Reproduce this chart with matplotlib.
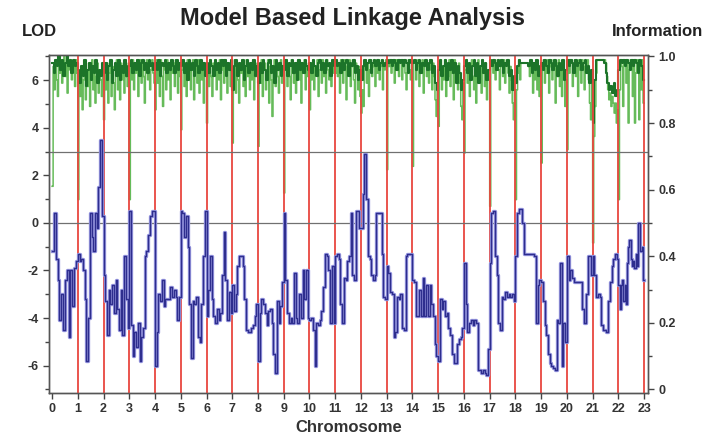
import matplotlib.pyplot as plt
from matplotlib.ticker import MultipleLocator

plt.rcParams['font.family'] = ['Liberation Sans', 'DejaVu Sans']

# LOD score steps per chromosome (0..22)
lod = [
    [-1.2, 0.4, -1.5, -2.4, -4.1, -3.0, -4.5, -2.4, -2.0, -4.8, -2.0, -3.5, -1.9, -1.6],
    [-1.3, -1.6, -1.5, -2.0, -3.2, -5.8, -4.0, 0.4, -0.6, -1.2, 0.4, -0.2, 1.5, 3.5, 0.3],
    [-2.2, -3.3, -4.7, -2.8, -3.4, -2.6, -3.8, -2.4, -3.6, -4.5, -2.8, -4.7, -1.4, -3.2, -4.4],
    [0.5, -4.3, -5.6, -4.6, -5.2, -4.2, -5.8, -4.8, -4.4, -1.4, -1.2, -0.5, 0.3, 0.5, 0.5],
    [-6.0, -4.6, -3.0, -3.3, -2.4, -3.5, -3.2, -3.2, -3.2, -2.7, -3.1, -2.8, -3.1, -4.1, -3.1],
    [0.5, 0.4, -0.6, 0.3, -1.0, -3.4, -5.7, -3.3, -3.4, -3.1, -4.8, -5.0, -3.4, -1.4, 0.5],
    [-3.9, -2.8, -1.4, -3.2, -3.9, -4.2, -3.6, -4.1, -3.8, -2.2, -0.4, -2.4, -4.1, -2.9, -3.8],
    [-2.6, -3.7, -3.0, -1.8, -1.4, -1.4, -1.8, -3.2, -4.5, -4.6, -4.6, -4.4, -4.3, -3.9, -3.4],
    [-5.8, -3.8, -3.2, -3.4, -3.8, -4.3, -3.7, -3.6, -4.2, -5.5, -6.3, -3.3, -4.2, -3.5, -2.5],
    [0.4, -2.4, -3.8, -4.2, -4.0, -4.2, -2.1, -4.0, -4.2, -3.0, -4.0, -2.0, -3.2, -2.0, -4.0],
    [-4.1, -4.0, -4.5, -6.0, -4.2, -4.3, -4.1, -3.7, -2.7, -1.3, -1.4, -2.0, -4.2, -1.8, -4.2],
    [-1.4, -1.3, -1.5, -3.4, -4.2, -2.3, -2.4, -1.6, -1.4, 0.4, -2.2, -2.4, 0.5, 0.5, -0.2],
    [-0.2, 1.2, 2.9, 1.0, -1.4, -1.5, -2.2, -2.4, -2.2, 0.4, 0.4, 0.4, -1.3, -3.1, -3.2],
    [-1.8, -2.1, -2.9, -3.0, -4.8, -4.6, -3.1, -3.2, -3.0, -4.4, -4.5, -1.4, -1.3, -1.3, -1.3],
    [-2.4, -2.5, -3.9, -3.9, -2.8, -3.9, -2.3, -3.9, -2.6, -3.9, -2.6, -3.4, -3.9, -5.1, -5.6],
    [-5.8, -3.2, -3.6, -3.3, -3.9, -3.8, -4.4, -4.7, -5.5, -5.9, -5.9, -5.1, -4.9, -4.8, -4.4],
    [-1.7, -3.4, -4.6, -4.2, -4.1, -4.3, -4.1, -4.2, -6.2, -6.2, -6.3, -6.2, -6.3, -6.4, -5.3],
    [-1.7, 0.4, 0.5, -1.4, -2.2, -4.2, -4.5, -3.1, -3.2, -2.9, -3.1, -3.0, -3.1, -3.0, -3.3],
    [-1.4, 0.4, 0.6, 0.6, 0.0, -1.3, -1.3, -1.3, -1.3, -1.3, -1.3, -1.4, -4.2, -2.6, -2.4],
    [-2.5, -3.3, -4.3, -4.7, -5.5, -5.9, -6.0, -6.1, -6.2, -4.1, -4.2, -1.7, -6.0, -4.2, -5.0],
    [-1.4, -2.4, -2.0, -2.3, -2.5, -2.5, -2.5, -2.5, -2.5, -3.6, -4.2, -3.0, -1.4, -1.4, -2.2],
    [-1.4, -2.2, -3.1, -3.0, -3.1, -4.3, -4.5, -4.5, -4.6, -3.3, -2.5, -1.8, -1.5, -1.3, -1.5],
    [-2.6, -3.6, -2.6, -2.4, -3.3, -2.6, -3.4, -1.7, -1.0, -0.7, -1.5, -1.8, -1.6, -1.9,
     -1.3, -1.8, 0.0, 0.0, -1.2, -1.0, -2.4],
]

# information content (light green trace), first value is the dip at the chromosome start
info_light = [
    [0.61, 0.97, 0.90, 0.99, 0.93, 0.88, 0.98, 0.95, 0.99, 0.92, 0.97, 1.0, 0.94, 0.98, 0.89, 0.99, 0.96, 0.99, 0.93, 0.98, 0.97, 0.91, 0.99, 0.95],
    [0.57, 0.95, 0.88, 0.97, 0.84, 0.93, 0.99, 0.87, 0.96, 0.91, 0.98, 0.85, 0.95, 0.99, 0.90, 0.97, 0.86, 0.94, 0.98, 0.89, 0.96, 0.93, 0.88, 0.97],
    [0.81, 0.96, 0.90, 0.98, 0.86, 0.95, 0.99, 0.88, 0.97, 0.92, 0.84, 0.96, 0.99, 0.90, 0.95, 0.87, 0.98, 0.93, 0.97, 0.89, 0.99, 0.94, 0.91, 0.98],
    [0.57, 0.98, 0.93, 0.99, 0.90, 0.97, 0.95, 0.99, 0.88, 0.96, 0.99, 0.92, 0.98, 0.94, 0.86, 0.97, 0.99, 0.93, 0.98, 0.90, 0.96, 0.99, 0.95, 0.92],
    [0.84, 0.99, 0.92, 0.97, 0.88, 0.99, 0.94, 0.85, 0.98, 0.96, 0.90, 0.99, 0.93, 0.97, 0.87, 0.99, 0.95, 0.98, 0.91, 0.99, 0.96, 0.89, 0.98, 0.94],
    [0.78, 0.96, 0.99, 0.91, 0.97, 0.88, 0.99, 0.94, 0.98, 0.90, 0.96, 0.99, 0.87, 0.95, 0.98, 0.92, 0.99, 0.89, 0.96, 0.93, 0.98, 0.86, 0.95, 0.97],
    [0.80, 0.97, 0.91, 0.99, 0.94, 0.88, 0.98, 0.95, 0.99, 0.90, 0.97, 0.93, 0.99, 0.87, 0.96, 0.98, 0.92, 0.99, 0.95, 0.89, 0.98, 0.96, 0.91, 0.99],
    [0.74, 0.95, 0.99, 0.89, 0.97, 0.93, 0.86, 0.98, 0.95, 0.99, 0.91, 0.97, 0.88, 0.99, 0.94, 0.96, 0.90, 0.98, 0.93, 0.99, 0.87, 0.96, 0.94, 0.98],
    [0.73, 0.97, 0.92, 0.99, 0.88, 0.96, 0.98, 0.90, 0.95, 0.99, 0.86, 0.97, 0.93, 0.82, 0.96, 0.99, 0.91, 0.98, 0.94, 0.89, 0.97, 0.99, 0.92, 0.96],
    [0.59, 0.96, 0.99, 0.91, 0.98, 0.94, 0.87, 0.99, 0.95, 0.92, 0.98, 0.89, 0.97, 0.99, 0.93, 0.96, 0.86, 0.98, 0.95, 0.99, 0.90, 0.97, 0.94, 0.98],
    [0.84, 0.98, 0.93, 0.99, 0.90, 0.97, 0.95, 0.99, 0.88, 0.96, 0.98, 0.92, 0.99, 0.94, 0.97, 0.89, 0.99, 0.96, 0.93, 0.98, 0.91, 0.99, 0.95, 0.97],
    [0.95, 0.99, 0.94, 0.98, 0.89, 0.99, 0.96, 0.92, 0.99, 0.97, 0.87, 0.98, 0.95, 0.99, 0.91, 0.97, 0.99, 0.93, 0.86, 0.98, 0.96, 0.90, 0.97, 0.88],
    [0.83, 0.90, 0.85, 0.97, 0.99, 0.92, 0.98, 0.88, 0.96, 0.99, 0.94, 0.97, 0.99, 0.91, 0.98, 0.95, 0.99, 0.93, 0.97, 0.99, 0.90, 0.98, 0.96, 0.99],
    [0.66, 0.99, 0.97, 0.99, 0.95, 0.99, 0.98, 0.92, 0.99, 0.96, 0.99, 0.94, 0.98, 0.99, 0.93, 0.97, 0.99, 0.95, 0.90, 0.98, 0.99, 0.96, 0.93, 0.99],
    [0.67, 0.98, 0.99, 0.93, 0.97, 0.99, 0.91, 0.98, 0.95, 0.99, 0.89, 0.97, 0.99, 0.94, 0.98, 0.92, 0.99, 0.96, 0.90, 0.98, 0.94, 0.87, 0.82, 0.90],
    [0.79, 0.97, 0.99, 0.90, 0.96, 0.93, 0.99, 0.88, 0.97, 0.94, 0.99, 0.91, 0.98, 0.95, 0.87, 0.99, 0.93, 0.97, 0.90, 0.98, 0.92, 0.85, 0.81, 0.92],
    [0.71, 0.96, 0.99, 0.92, 0.98, 0.88, 0.97, 0.99, 0.94, 0.90, 0.98, 0.86, 0.96, 0.99, 0.93, 0.97, 0.89, 0.99, 0.95, 0.91, 0.98, 0.87, 0.96, 0.93],
    [0.55, 0.98, 0.99, 0.95, 0.99, 0.93, 0.98, 0.99, 0.96, 0.90, 0.99, 0.97, 0.94, 0.99, 0.92, 0.98, 0.99, 0.95, 0.89, 0.97, 0.93, 0.86, 0.81, 0.90],
    [0.57, 0.90, 0.95, 0.99, 0.93, 0.98, 0.98, 0.98, 0.98, 0.98, 0.98, 0.98, 0.97, 0.94, 0.99, 0.96, 0.89, 0.98, 0.93, 0.99, 0.90, 0.97, 0.88, 0.95],
    [0.68, 0.97, 0.99, 0.92, 0.98, 0.95, 0.99, 0.89, 0.97, 0.99, 0.93, 0.96, 0.99, 0.86, 0.98, 0.94, 0.99, 0.91, 0.97, 0.88, 0.99, 0.95, 0.85, 0.93],
    [0.72, 0.99, 0.95, 0.98, 0.99, 0.91, 0.97, 0.99, 0.94, 0.98, 0.88, 0.99, 0.96, 0.92, 0.99, 0.97, 0.90, 0.98, 0.95, 0.99, 0.93, 0.86, 0.81, 0.94],
    [0.44, 0.76, 0.85, 0.95, 0.99, 0.99, 0.99, 0.99, 0.99, 0.99, 0.99, 0.99, 0.98, 0.94, 0.90, 0.87, 0.89, 0.85, 0.88, 0.86, 0.83, 0.86, 0.80, 0.84],
    [0.57, 0.90, 0.99, 0.97, 0.85, 0.99, 0.98, 0.92, 0.99, 0.80, 0.96, 0.99, 0.97, 0.88, 0.99, 0.80, 0.95, 0.99, 0.98, 0.81, 0.97, 0.90, 0.99, 0.86],
]

# dark green trace, stays close to the top
info_dark = [
    [0.98, 0.95, 0.99, 0.97, 1.0, 0.96, 0.99, 0.94, 0.98, 1.0, 0.97, 0.99, 0.95, 0.99, 0.97, 0.98],
    [0.96, 0.92, 0.97, 0.94, 0.99, 0.91, 0.96, 0.98, 0.93, 0.97, 0.95, 0.99, 0.92, 0.96, 0.94, 0.98],
    [0.95, 0.98, 0.93, 0.97, 0.99, 0.92, 0.96, 0.98, 0.94, 0.99, 0.93, 0.97, 0.95, 0.99, 0.94, 0.97],
    [0.97, 0.99, 0.95, 0.98, 0.96, 0.99, 0.94, 0.98, 0.99, 0.96, 0.98, 0.95, 0.99, 0.97, 0.98, 0.96],
    [0.98, 0.96, 0.99, 0.94, 0.98, 0.97, 0.99, 0.95, 0.98, 0.96, 0.99, 0.97, 0.95, 0.99, 0.96, 0.98],
    [0.97, 0.99, 0.95, 0.98, 0.93, 0.99, 0.96, 0.98, 0.94, 0.99, 0.97, 0.95, 0.99, 0.96, 0.98, 0.94],
    [0.98, 0.95, 0.99, 0.97, 0.94, 0.99, 0.96, 0.98, 0.95, 0.99, 0.97, 0.99, 0.94, 0.98, 0.96, 0.99],
    [0.90, 0.97, 0.99, 0.94, 0.98, 0.96, 0.99, 0.93, 0.97, 0.99, 0.95, 0.98, 0.96, 0.99, 0.94, 0.97],
    [0.92, 0.98, 0.95, 0.99, 0.96, 0.93, 0.98, 0.99, 0.95, 0.97, 0.92, 0.99, 0.96, 0.98, 0.94, 0.97],
    [0.96, 0.99, 0.94, 0.98, 0.97, 0.99, 0.95, 0.98, 0.93, 0.99, 0.96, 0.98, 0.95, 0.99, 0.97, 0.96],
    [0.98, 0.95, 0.99, 0.97, 0.94, 0.98, 0.99, 0.96, 0.98, 0.95, 0.99, 0.97, 0.98, 0.94, 0.99, 0.97],
    [0.99, 0.97, 0.98, 0.95, 0.99, 0.96, 0.98, 0.99, 0.94, 0.98, 0.97, 0.99, 0.95, 0.97, 0.93, 0.96],
    [0.93, 0.97, 0.99, 0.96, 0.98, 0.99, 0.95, 0.98, 0.99, 0.97, 0.99, 0.96, 0.98, 0.99, 0.97, 0.98],
    [0.99, 0.98, 0.99, 0.97, 0.99, 0.98, 0.96, 0.99, 0.98, 0.99, 0.97, 0.99, 0.98, 0.95, 0.99, 0.98],
    [0.98, 0.99, 0.96, 0.98, 0.99, 0.95, 0.98, 0.97, 0.99, 0.96, 0.98, 0.99, 0.95, 0.97, 0.92, 0.90],
    [0.96, 0.99, 0.94, 0.97, 0.99, 0.93, 0.98, 0.96, 0.99, 0.95, 0.98, 0.92, 0.97, 0.95, 0.90, 0.93],
    [0.97, 0.99, 0.95, 0.98, 0.93, 0.97, 0.99, 0.94, 0.98, 0.92, 0.97, 0.99, 0.95, 0.98, 0.93, 0.96],
    [0.99, 0.97, 0.99, 0.98, 0.96, 0.99, 0.97, 0.99, 0.95, 0.98, 0.97, 0.99, 0.94, 0.96, 0.90, 0.94],
    [0.92, 0.97, 0.99, 0.98, 0.98, 0.98, 0.98, 0.98, 0.97, 0.99, 0.95, 0.98, 0.96, 0.99, 0.94, 0.97],
    [0.98, 0.96, 0.99, 0.97, 0.95, 0.99, 0.98, 0.96, 0.99, 0.97, 0.94, 0.98, 0.96, 0.99, 0.93, 0.96],
    [0.99, 0.97, 0.99, 0.98, 0.95, 0.99, 0.97, 0.98, 0.99, 0.96, 0.98, 0.99, 0.95, 0.97, 0.92, 0.96],
    [0.80, 0.93, 0.99, 0.99, 0.99, 0.99, 0.99, 0.98, 0.95, 0.92, 0.90, 0.91, 0.89, 0.92, 0.88, 0.90],
    [0.96, 0.99, 0.98, 0.99, 0.97, 0.99, 0.98, 0.96, 0.99, 0.97, 0.99, 0.98, 0.95, 0.99, 0.97, 0.93],
]
info_end = 0.86
chromosomes = list(range(24))


def flatten(per_chrom, end_value):
    xs, ys = [], []
    for c, vals in enumerate(per_chrom):
        n = len(vals)
        for i, v in enumerate(vals):
            xs.append(c + i / n)
            ys.append(v)
    xs.append(len(per_chrom))
    ys.append(end_value)
    return xs, ys


lod_x, lod_y = flatten(lod, lod[-1][-1])
il_x, il_y = flatten(info_light, info_end)
id_x, id_y = flatten(info_dark, info_dark[-1][-1])

fig = plt.figure(figsize=(7.2, 4.44), dpi=100)
ax = fig.add_axes([0.068, 0.115, 0.832, 0.761])
ax2 = ax.twinx()

lod_lim = (-7.15, 7.06)
ax.set_xlim(-0.12, 23.15)
ax.set_ylim(*lod_lim)
ax2.set_ylim((lod_lim[0] + 7) / 14, (lod_lim[1] + 7) / 14)

for c in chromosomes[1:]:
    ax.axvline(c, color='#e8473f', lw=1.3, zorder=1)
ax.axhline(3, color='#707070', lw=0.9, zorder=1)
ax.axhline(0, color='#707070', lw=0.9, zorder=1)

ax2.step(il_x, il_y, where='post', color='#66bb5a', lw=1.1, zorder=2)
ax2.step(id_x, id_y, where='post', color='#1c7429', lw=1.5, zorder=3)

ax.step(lod_x, lod_y, where='post', color='#9898e0', lw=2.4, zorder=4)
ax.step(lod_x, lod_y, where='post', color='#2e2e8e', lw=1.0, zorder=5)

ax.set_zorder(ax2.get_zorder() + 1)
ax.patch.set_visible(False)

tick_font = dict(fontsize=9, fontweight='bold')
ax.set_xticks(chromosomes)
ax.set_xticklabels([str(c) for c in chromosomes], **tick_font)
ax.set_yticks([-6, -4, -2, 0, 2, 4, 6])
ax.set_yticklabels(['-6', '-4', '-2', '0', '2', '4', '6'], **tick_font)
ax.yaxis.set_minor_locator(MultipleLocator(1))
ax2.set_yticks([0, 0.2, 0.4, 0.6, 0.8, 1.0])
ax2.set_yticklabels(['0', '0.2', '0.4', '0.6', '0.8', '1.0'], **tick_font)
ax2.yaxis.set_minor_locator(MultipleLocator(0.1))

for a in (ax, ax2):
    a.tick_params(which='both', direction='out', color='#444444', width=1, labelcolor='#333333')
    a.tick_params(which='major', length=4)
    a.tick_params(which='minor', length=3)
    for s in a.spines.values():
        s.set_color('#555555')
        s.set_linewidth(1)

ax.set_xlabel('Chromosome', fontsize=12, fontweight='bold', color='#333333', labelpad=3)
fig.text(0.49, 0.958, 'Model Based Linkage Analysis', ha='center', va='center',
         fontsize=17, fontweight='bold', color='#222222')
fig.text(0.055, 0.93, 'LOD', ha='center', va='center', fontsize=12, fontweight='bold', color='#222222')
fig.text(0.913, 0.93, 'Information', ha='center', va='center', fontsize=12, fontweight='bold', color='#222222')

fig.savefig('out.png', dpi=100)
